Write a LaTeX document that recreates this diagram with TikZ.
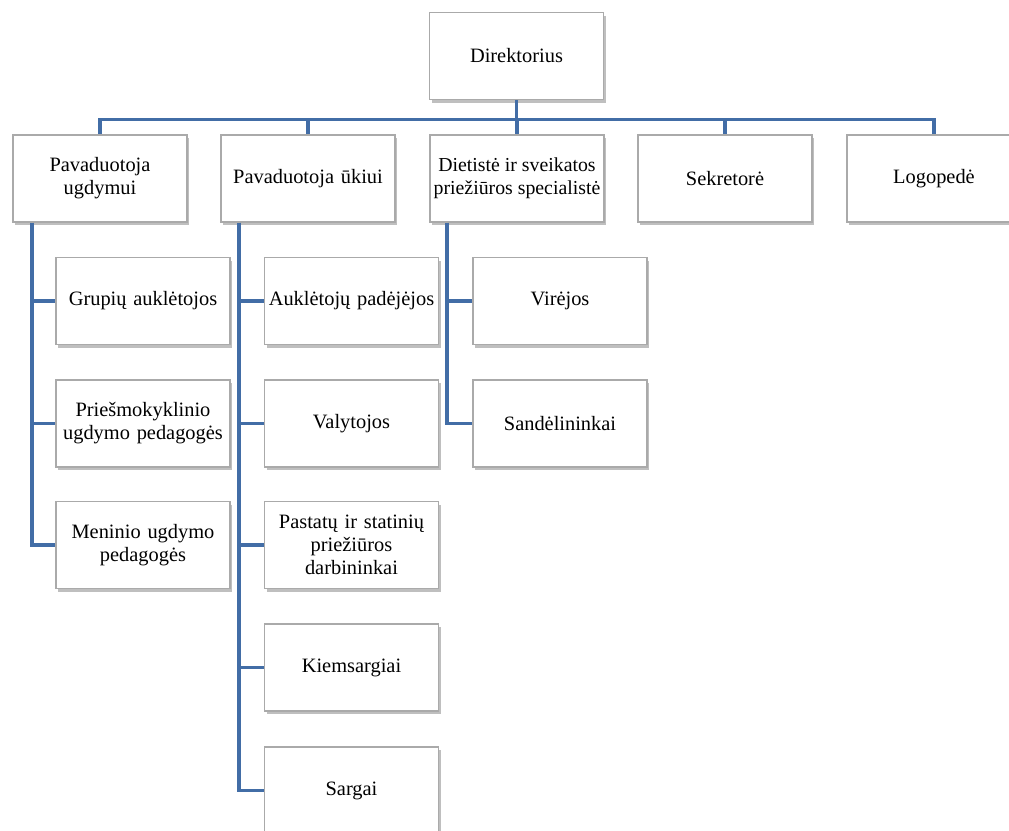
\documentclass[tikz,border=0pt]{standalone}
\usepackage{fontspec}
\setmainfont{Liberation Serif}
\usetikzlibrary{shadows}
\definecolor{linkblue}{RGB}{66,109,166}
\definecolor{boxgray}{RGB}{170,170,170}

\begin{document}
\begin{tikzpicture}[x=0.5pt,y=-0.5pt,
	box/.style={draw=boxgray,fill=white,thick,text width=83pt,minimum height=43.5pt,
		align=center,inner sep=2pt,font=\fontsize{10.2pt}{11.5pt}\selectfont,
		drop shadow={shadow xshift=1pt,shadow yshift=-1.5pt,opacity=0.5}},
	link/.style={draw=linkblue,line width=1.8pt}]

\useasboundingbox (0,0) rectangle (1009,831);

\begin{scope}[every node/.style={box}]
	\node (dir) at (516.5,56) {Direktorius};
	\node (pu) at (100,178.5) {Pavaduotoja\\ugdymui};
	\node (puk) at (308,178.5) {Pavaduotoja ūkiui};
	\node[text width=,minimum width=87pt,inner sep=0.3pt,
		font=\fontsize{9.9pt}{11.5pt}\selectfont] (diet) at (517,178.5)
		{Dietistė ir sveikatos\\priežiūros specialistė};
	\node (sekr) at (725,178.5) {Sekretorė};
	\node (logo) at (934,178.5) {Logopedė};

	\node (grup) at (143,301) {Grupių auklėtojos};
	\node (pries) at (143,423.5) {Priešmokyklinio\\ugdymo pedagogės};
	\node (men) at (143,545) {Meninio ugdymo\\pedagogės};

	\node (aukp) at (351.5,301) {Auklėtojų padėjėjos};
	\node (valyt) at (351.5,423.5) {Valytojos};
	\node (past) at (351.5,545) {Pastatų ir statinių\\priežiūros\\darbininkai};
	\node (kiem) at (351.5,667.5) {Kiemsargiai};
	\node (sarg) at (351.5,790.5) {Sargai};

	\node (vir) at (560,301) {Virėjos};
	\node (sand) at (560,423.5) {Sandėlininkai};
\end{scope}

\begin{scope}[link]
	\foreach \n in {pu,puk,diet,sekr,logo}
		\draw (dir.south) -- ++(0,19) -| (\n.north);
	\foreach \n in {grup,pries,men}
		\draw ([xshift=10pt]pu.south west) |- (\n.west);
	\foreach \n in {aukp,valyt,past,kiem,sarg}
		\draw ([xshift=9.5pt]puk.south west) |- (\n.west);
	\foreach \n in {vir,sand}
		\draw ([xshift=9pt]diet.south west) |- (\n.west);
\end{scope}

\end{tikzpicture}
\end{document}
